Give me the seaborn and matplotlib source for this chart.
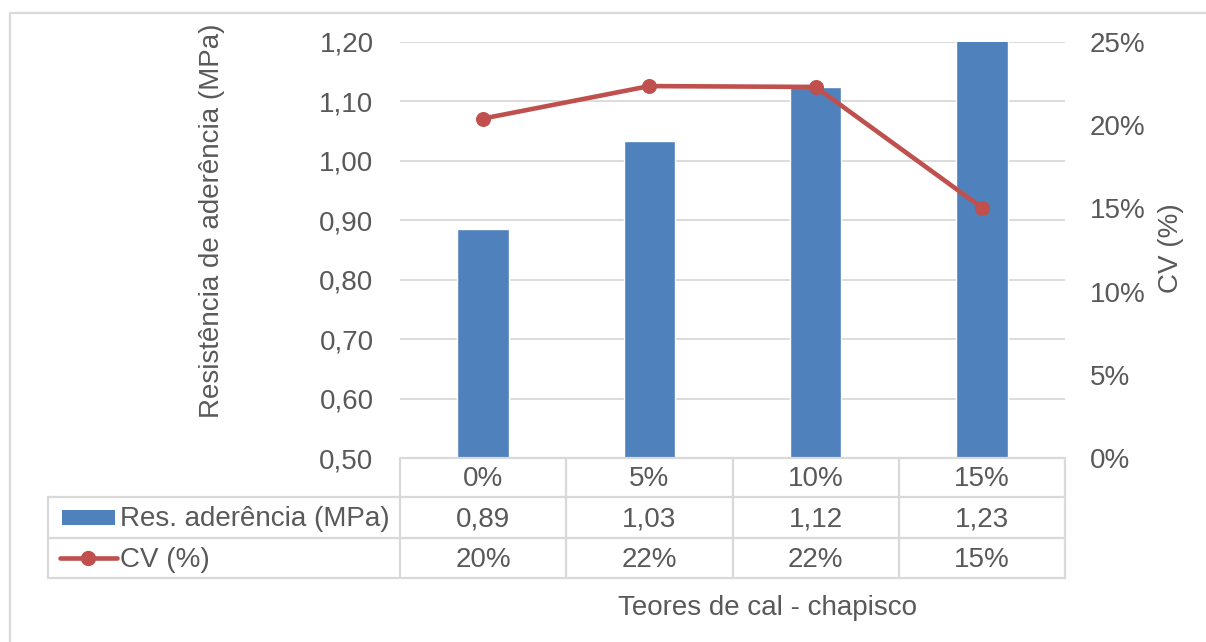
import numpy as np
import matplotlib
matplotlib.use("Agg")
import matplotlib.pyplot as plt
import matplotlib.transforms as mtransforms
from matplotlib.lines import Line2D
from matplotlib.patches import Rectangle
import seaborn as sns

# Data
categories = ["0%", "5%", "10%", "15%"]
resistencia = [0.886, 1.034, 1.124, 1.23]
cv = [20.4, 22.35, 22.3, 15.05]
left_ticks = [0.50, 0.60, 0.70, 0.80, 0.90, 1.00, 1.10, 1.20]
right_ticks = [0, 5, 10, 15, 20, 25]
series_names = ["Res. aderência (MPa)", "CV (%)"]

BLUE = "#4F81BD"
RED = "#C0504D"
GRID = "#D9D9D9"
TXT = "#595959"
FS = 20

sns.set_theme(style="white")
plt.rcParams["font.family"] = ["Liberation Sans", "DejaVu Sans"]

W, H = 1206, 642
fig = plt.figure(figsize=(W / 100, H / 100), dpi=100)
fig.patch.set_facecolor("white")


def fx(px):
    return px / W


def fy(py):
    return 1 - py / H


# plot area in pixels
x0, x1, y0, y1 = 400, 1065, 42, 458
ax = fig.add_axes([fx(x0), fy(y1), fx(x1) - fx(x0), fy(y0) - fy(y1)])

sns.barplot(x=categories, y=resistencia, color=BLUE, saturation=1,
            width=0.31, ax=ax, zorder=2)
ax.set_xlim(-0.5, len(categories) - 0.5)
ax.set_ylim(0.5, 1.2)
ax.set_yticks(left_ticks)
ax.set_yticklabels([f"{t:.2f}".replace(".", ",") for t in left_ticks])
ax.yaxis.grid(True, color=GRID, linewidth=1.3, zorder=0)
ax.set_axisbelow(True)
ax.set_xticks([])
ax.set_xlabel("")
ax.set_ylabel("")
for s in ax.spines.values():
    s.set_visible(False)
ax.tick_params(axis="y", length=0, pad=19, labelsize=FS, labelcolor=TXT)

ax2 = ax.twinx()
sns.lineplot(x=np.arange(len(categories)), y=cv, color=RED, linewidth=3.3,
             marker="o", markersize=10, markeredgecolor=RED, ax=ax2,
             zorder=3)
ax2.set_xlim(ax.get_xlim())
ax2.set_ylim(0, 25)
ax2.set_yticks(right_ticks)
ax2.set_yticklabels([f"{t}%" for t in right_ticks])
ax2.set_ylabel("")
ax2.set_xlabel("")
ax2.set_xticks([])
for s in ax2.spines.values():
    s.set_visible(False)
ax2.tick_params(axis="y", length=0, pad=18, labelsize=FS, labelcolor=TXT)
ax2.grid(False)

# Axis titles
fig.text(fx(212), fy(221), "Resistência de aderência (MPa)", rotation=90,
         ha="center", va="center", fontsize=FS, color=TXT)
fig.text(fx(1171), fy(248), "CV (%)", rotation=90,
         ha="center", va="center", fontsize=FS, color=TXT)
fig.text(fx(767), fy(608), "Teores de cal - chapisco",
         ha="center", va="center", fontsize=FS, color=TXT)

# Data table below the plot
blend = mtransforms.blended_transform_factory(ax.transData, fig.transFigure)
row_top, r1, r2, r3 = 458, 497, 538, 578
tbl_left = 48
lw_tbl = 1.6
dy = 2  # small downward nudge for cell text


def hline(xa, xb, py):
    fig.add_artist(Line2D([fx(xa), fx(xb)], [fy(py), fy(py)],
                          color=GRID, linewidth=lw_tbl,
                          transform=fig.transFigure))


hline(x0, x1, row_top)
for py in (r1, r2, r3):
    hline(tbl_left, x1, py)

for b in np.arange(len(categories) + 1) - 0.5:
    fig.add_artist(Line2D([b, b], [fy(row_top), fy(r3)], color=GRID,
                          linewidth=lw_tbl, transform=blend))
fig.add_artist(Line2D([fx(tbl_left)] * 2, [fy(r1), fy(r3)], color=GRID,
                      linewidth=lw_tbl, transform=fig.transFigure))

for i, cat in enumerate(categories):
    fig.text(i, fy((row_top + r1) / 2 + dy), cat, transform=blend,
             ha="center", va="center", fontsize=FS, color=TXT)
    fig.text(i, fy((r1 + r2) / 2 + dy),
             f"{resistencia[i]:.2f}".replace(".", ","),
             transform=blend, ha="center", va="center", fontsize=FS, color=TXT)
    fig.text(i, fy((r2 + r3) / 2 + dy), f"{round(cv[i])}%", transform=blend,
             ha="center", va="center", fontsize=FS, color=TXT)

# Legend keys inside the table
fig.add_artist(Rectangle((fx(62), fy(525)), fx(115) - fx(62), fy(510) - fy(525),
                         facecolor=BLUE, edgecolor="none",
                         transform=fig.transFigure))
fig.add_artist(Line2D([fx(60), fx(117)], [fy(558)] * 2, color=RED,
                      linewidth=3.3, transform=fig.transFigure))
fig.add_artist(Line2D([fx(88)], [fy(558)], color=RED, marker="o",
                      markersize=10, transform=fig.transFigure))
fig.text(fx(120), fy((r1 + r2) / 2 + dy), series_names[0], ha="left",
         va="center", fontsize=FS, color=TXT)
fig.text(fx(120), fy((r2 + r3) / 2 + dy), series_names[1], ha="left",
         va="center", fontsize=FS, color=TXT)

# Chart frame (left and top edges)
fig.add_artist(Line2D([fx(9.5), fx(9.5), fx(W)], [0, fy(12.5), fy(12.5)],
                      color=GRID, linewidth=1.6, transform=fig.transFigure))

fig.savefig("out.png", dpi=100, facecolor="white")
